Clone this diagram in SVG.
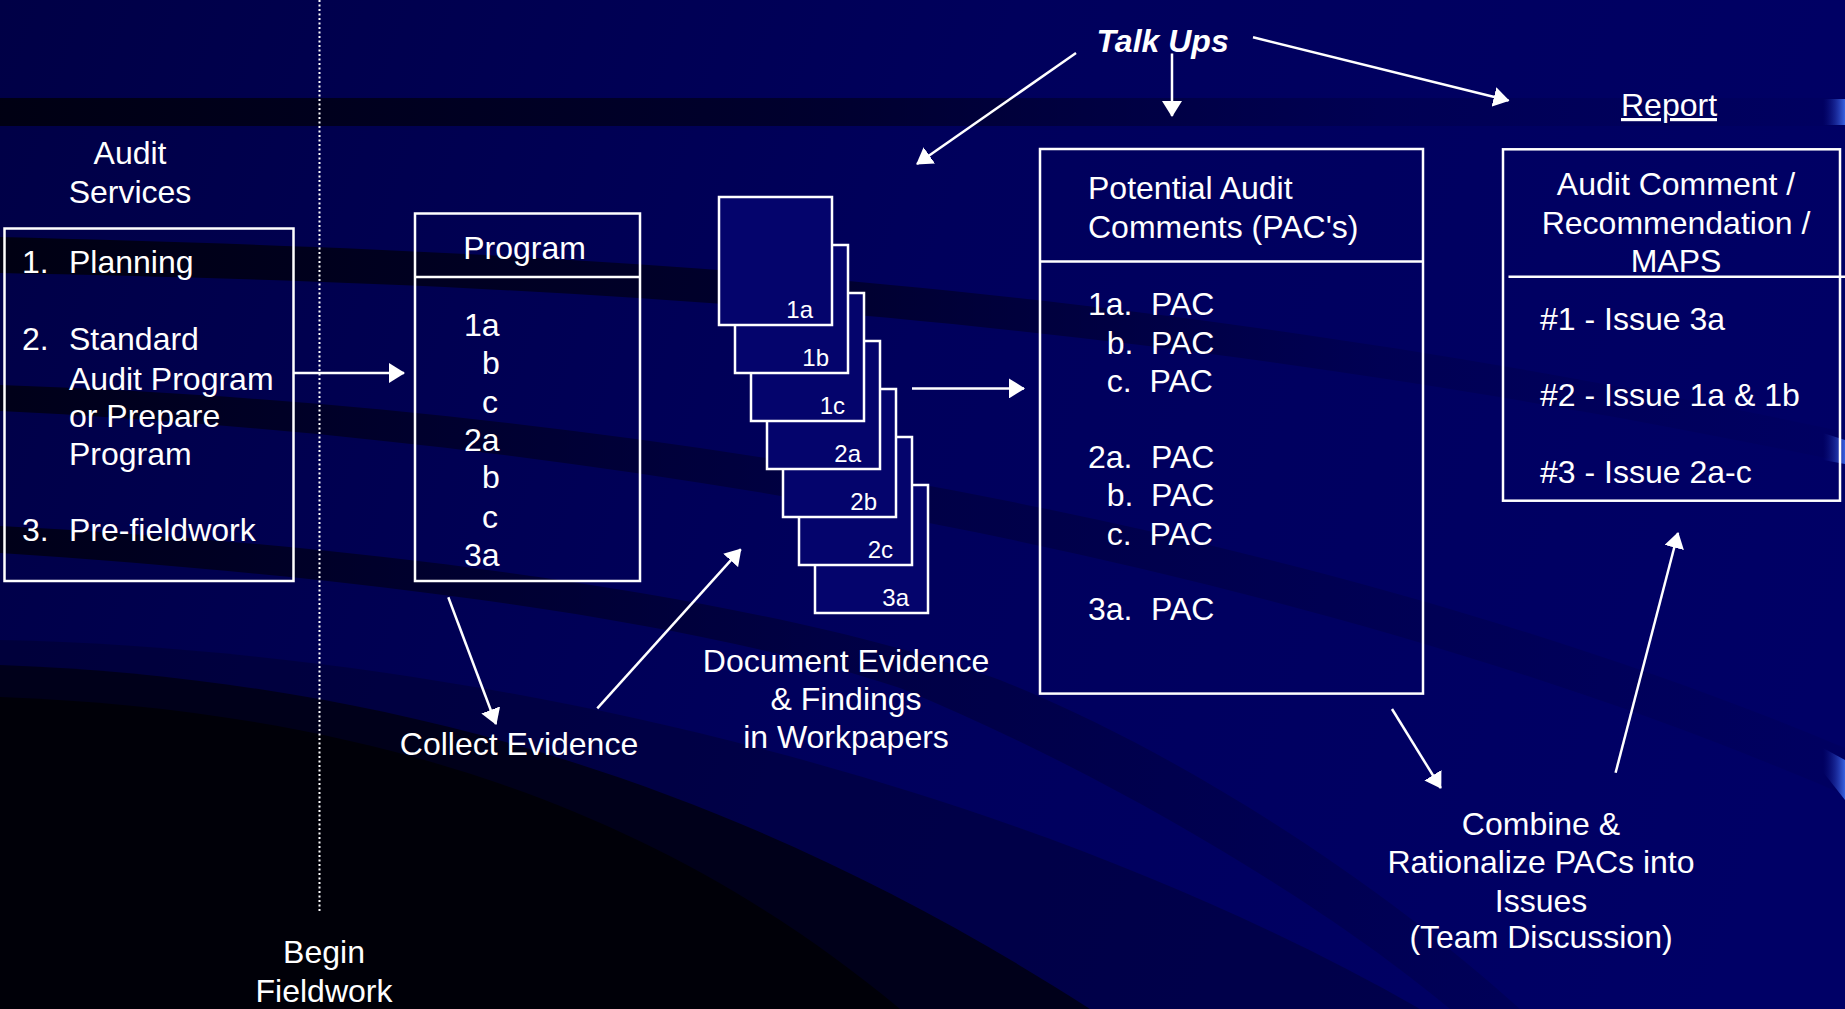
<svg xmlns="http://www.w3.org/2000/svg" width="1845" height="1009" viewBox="0 0 1845 1009">
  <defs>
    <style>
      .t { font-family: "Liberation Sans", Arial, sans-serif; font-size: 32px; fill: #ffffff; }
      .mid { text-anchor: middle; }
      .pl { font-family: "Liberation Sans", Arial, sans-serif; font-size: 24px; fill: #ffffff; text-anchor: end; }
      .box { fill: none; stroke: #ffffff; stroke-width: 2.5; }
      .page { fill: #04046c; stroke: #ffffff; stroke-width: 2.5; }
      .conn { fill: none; stroke: #ffffff; stroke-width: 2.5; marker-end: url(#arrow); }
    </style>
    <marker id="arrow" viewBox="0 0 16 20" refX="15" refY="10" markerWidth="16" markerHeight="20" markerUnits="userSpaceOnUse" orient="auto">
      <path d="M0,0 L16,10 L0,20 Z" fill="#ffffff"/>
    </marker>
    <linearGradient id="bgBase" x1="0" y1="0" x2="1845" y2="600" gradientUnits="userSpaceOnUse">
      <stop offset="0" stop-color="#000046"/>
      <stop offset="0.5" stop-color="#00005c"/>
      <stop offset="1" stop-color="#000066"/>
    </linearGradient>
    <linearGradient id="bandFade" x1="0" y1="0" x2="1845" y2="0" gradientUnits="userSpaceOnUse">
      <stop offset="0" stop-color="#000010" stop-opacity="0.95"/>
      <stop offset="0.45" stop-color="#000018" stop-opacity="0.65"/>
      <stop offset="0.75" stop-color="#000020" stop-opacity="0.2"/>
      <stop offset="1" stop-color="#000020" stop-opacity="0.05"/>
    </linearGradient>
    <linearGradient id="bandSoft" x1="0" y1="0" x2="1845" y2="0" gradientUnits="userSpaceOnUse">
      <stop offset="0" stop-color="#000010" stop-opacity="0.85"/>
      <stop offset="0.45" stop-color="#000018" stop-opacity="0.35"/>
      <stop offset="1" stop-color="#000020" stop-opacity="0.08"/>
    </linearGradient>
    <linearGradient id="tip" x1="0" y1="0" x2="1" y2="0">
      <stop offset="0" stop-color="#101a90" stop-opacity="0"/>
      <stop offset="1" stop-color="#3a62e0"/>
    </linearGradient>
  </defs>

  <!-- backdrop: navy field with dark sweeping bands -->
  <g id="background">
    <rect x="0" y="0" width="1845" height="1009" fill="url(#bgBase)"/>
    <rect x="0" y="98" width="1845" height="28" fill="url(#bandFade)"/>
    <path d="M0,237 C500,250 1100,272 1845,432 L1845,462 C1100,306 500,283 0,273 Z" fill="url(#bandFade)"/>
    <path d="M0,385 C600,405 1300,520 1845,748 L1845,795 C1300,560 600,440 0,411 Z" fill="url(#bandSoft)"/>
    <path d="M0,526 C380,545 780,600 1000,680 C1200,760 1400,900 1520,1009 L1450,1009 C1320,900 1100,770 900,688 C700,622 380,578 0,553 Z" fill="url(#bandSoft)"/>
    <path d="M0,640 C450,650 1000,770 1420,1009 L0,1009 Z" fill="#000020" opacity="0.35"/>
    <path d="M0,665 C400,680 750,790 1090,1009 L0,1009 Z" fill="#00001a"/>
    <path d="M0,697 C350,710 650,800 900,1009 L0,1009 Z" fill="#000008"/>
    <polygon points="1823,99 1845,99 1845,125 1823,125" fill="url(#tip)"/>
    <polygon points="1823,433 1845,440 1845,464 1823,460" fill="url(#tip)"/>
    <polygon points="1823,748 1845,760 1845,800 1823,772" fill="url(#tip)"/>
  </g>

  <!-- dotted divider marking the start of fieldwork -->
  <line id="fieldwork-divider" x1="319.5" y1="0" x2="319.5" y2="913" stroke="#ffffff" stroke-width="2" stroke-dasharray="2 2.5"/>

  <g id="audit-services">
    <text class="t mid" x="130" y="164">Audit</text>
    <text class="t mid" x="130" y="202.5">Services</text>
    <rect class="box" x="4.5" y="228.5" width="289" height="352.5"/>
    <text class="t" x="22" y="273">1.</text>
    <text class="t" x="69" y="273">Planning</text>
    <text class="t" x="22" y="350">2.</text>
    <text class="t" x="69" y="350">Standard</text>
    <text class="t" x="69" y="389.5">Audit Program</text>
    <text class="t" x="69" y="427">or Prepare</text>
    <text class="t" x="69" y="464.6">Program</text>
    <text class="t" x="22" y="541">3.</text>
    <text class="t" x="69" y="541">Pre-fieldwork</text>
  </g>

  <g id="program">
    <rect class="box" x="415" y="213.5" width="225" height="367.5"/>
    <line class="box" x1="415" y1="277" x2="640" y2="277"/>
    <text class="t mid" x="524.5" y="259">Program</text>
    <text class="t" x="464" y="336">1a</text>
    <text class="t" x="482" y="373.7">b</text>
    <text class="t" x="482" y="413">c</text>
    <text class="t" x="464" y="451">2a</text>
    <text class="t" x="482" y="488">b</text>
    <text class="t" x="482" y="528">c</text>
    <text class="t" x="464" y="565.5">3a</text>
  </g>

  <!-- stacked workpapers, back to front -->
  <g id="workpapers">
    <rect class="page" x="815" y="485" width="113" height="128"/>
    <text class="pl" x="909" y="606">3a</text>
    <rect class="page" x="799" y="437" width="113" height="128"/>
    <text class="pl" x="893" y="558">2c</text>
    <rect class="page" x="783" y="389" width="113" height="128"/>
    <text class="pl" x="877" y="510">2b</text>
    <rect class="page" x="767" y="341" width="113" height="128"/>
    <text class="pl" x="861" y="462">2a</text>
    <rect class="page" x="751" y="293" width="113" height="128"/>
    <text class="pl" x="845" y="414">1c</text>
    <rect class="page" x="735" y="245" width="113" height="128"/>
    <text class="pl" x="829" y="366">1b</text>
    <rect class="page" x="719" y="197" width="113" height="128"/>
    <text class="pl" x="813" y="318">1a</text>
  </g>

  <g id="pac">
    <rect class="box" x="1040" y="149" width="383" height="544.6"/>
    <line class="box" x1="1040" y1="261.4" x2="1423" y2="261.4"/>
    <text class="t" x="1088" y="199">Potential Audit</text>
    <text class="t" x="1088" y="238">Comments (PAC's)</text>
    <text class="t" x="1088" y="315">1a.</text>
    <text class="t" x="1151" y="315">PAC</text>
    <text class="t" x="1106.7" y="353.6">b.</text>
    <text class="t" x="1151" y="353.6">PAC</text>
    <text class="t" x="1106.7" y="391.8">c.</text>
    <text class="t" x="1149.5" y="391.8">PAC</text>
    <text class="t" x="1088" y="468">2a.</text>
    <text class="t" x="1151" y="468">PAC</text>
    <text class="t" x="1106.7" y="506">b.</text>
    <text class="t" x="1151" y="506">PAC</text>
    <text class="t" x="1106.7" y="544.6">c.</text>
    <text class="t" x="1149.5" y="544.6">PAC</text>
    <text class="t" x="1088" y="620">3a.</text>
    <text class="t" x="1151" y="620">PAC</text>
  </g>

  <g id="report">
    <text class="t mid" x="1669" y="116" text-decoration="underline">Report</text>
    <rect class="box" x="1503" y="149.3" width="337" height="351.4"/>
    <line class="box" x1="1508.5" y1="276.8" x2="1845" y2="276.8"/>
    <text class="t mid" x="1676" y="194.6">Audit Comment /</text>
    <text class="t mid" x="1676" y="234">Recommendation /</text>
    <text class="t mid" x="1676" y="272">MAPS</text>
    <text class="t" x="1540" y="330">#1 - Issue 3a</text>
    <text class="t" x="1540" y="406">#2 - Issue 1a &amp; 1b</text>
    <text class="t" x="1540" y="483">#3 - Issue 2a-c</text>
  </g>

  <g id="talk-ups">
    <text class="t" x="1096.5" y="51.7" font-size="31" font-weight="bold" font-style="italic">Talk Ups</text>
  </g>

  <g id="collect-evidence">
    <text class="t mid" x="519" y="755">Collect Evidence</text>
  </g>

  <g id="document-evidence">
    <text class="t mid" x="846" y="672">Document Evidence</text>
    <text class="t mid" x="846" y="710">&amp; Findings</text>
    <text class="t mid" x="846" y="748.3">in Workpapers</text>
  </g>

  <g id="combine">
    <text class="t mid" x="1541" y="835">Combine &amp;</text>
    <text class="t mid" x="1541" y="873">Rationalize PACs into</text>
    <text class="t mid" x="1541" y="911.7">Issues</text>
    <text class="t mid" x="1541" y="948">(Team Discussion)</text>
  </g>

  <g id="begin-fieldwork">
    <text class="t mid" x="324" y="963">Begin</text>
    <text class="t mid" x="324" y="1001.7">Fieldwork</text>
  </g>

  <g id="connectors">
    <line class="conn" x1="293.75" y1="373" x2="404" y2="373"/>
    <line class="conn" x1="448.3" y1="597.3" x2="496" y2="724"/>
    <line class="conn" x1="597.3" y1="708.3" x2="740.7" y2="549.3"/>
    <line class="conn" x1="912" y1="388.4" x2="1024" y2="388.4"/>
    <line class="conn" x1="1076" y1="53" x2="917" y2="164"/>
    <line class="conn" x1="1172" y1="53.5" x2="1172" y2="116"/>
    <line class="conn" x1="1253" y1="37.3" x2="1508.5" y2="100.5"/>
    <line class="conn" x1="1392" y1="709" x2="1440.8" y2="788"/>
    <line class="conn" x1="1615.6" y1="772.7" x2="1678" y2="533"/>
  </g>
</svg>
